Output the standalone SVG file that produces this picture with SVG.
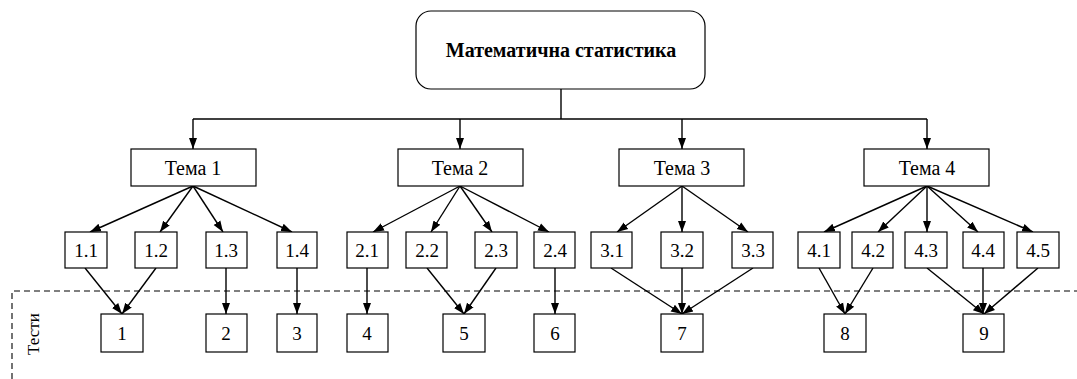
<svg xmlns="http://www.w3.org/2000/svg" width="1077" height="379" viewBox="0 0 1077 379">
<style>
.box{fill:#fff;stroke:#000;stroke-width:1.2}
.t{font-family:"Liberation Serif","Times New Roman",serif;font-size:20px;text-anchor:middle;dominant-baseline:central;fill:#000}
.s{font-size:19px}
.v{font-size:17px}
.c line,.c path{stroke:#000;stroke-width:1.4;fill:none}
.a{marker-end:url(#ar)}
.d{stroke:#000;stroke-width:1.1;stroke-dasharray:6 4;fill:none}
</style>
<defs>
<marker id="ar" markerUnits="userSpaceOnUse" markerWidth="11" markerHeight="11" viewBox="0 0 11 10" refX="11" refY="5" orient="auto">
<path d="M0,1 L11,5 L0,9 Z" fill="#000"/>
</marker>
</defs>
<rect x="0" y="0" width="1077" height="379" fill="#fff"/>
<path class="d" d="M12,379 V291 H1077"/>
<text class="t v" transform="translate(33,334) rotate(-90)">Тести</text>
<g class="c">
<path d="M561,89 V119"/>
<path d="M193,119 H927"/>
<line class="a" x1="193" y1="119" x2="193" y2="149"/>
<line class="a" x1="460" y1="119" x2="460" y2="149"/>
<line class="a" x1="682" y1="119" x2="682" y2="149"/>
<line class="a" x1="927" y1="119" x2="927" y2="149"/>
<line class="a" x1="193" y1="186" x2="90" y2="232"/>
<line class="a" x1="193" y1="186" x2="160" y2="232"/>
<line class="a" x1="193" y1="186" x2="223" y2="232"/>
<line class="a" x1="193" y1="186" x2="292" y2="232"/>
<line class="a" x1="460" y1="186" x2="373" y2="232"/>
<line class="a" x1="460" y1="186" x2="431" y2="232"/>
<line class="a" x1="460" y1="186" x2="492" y2="232"/>
<line class="a" x1="460" y1="186" x2="549" y2="232"/>
<line class="a" x1="682" y1="186" x2="617" y2="232"/>
<line class="a" x1="682" y1="186" x2="682" y2="232"/>
<line class="a" x1="682" y1="186" x2="748" y2="232"/>
<line class="a" x1="927" y1="186" x2="824" y2="232"/>
<line class="a" x1="927" y1="186" x2="878" y2="232"/>
<line class="a" x1="927" y1="186" x2="927" y2="232"/>
<line class="a" x1="927" y1="186" x2="978" y2="232"/>
<line class="a" x1="927" y1="186" x2="1033" y2="232"/>
<line class="a" x1="85" y1="268" x2="122" y2="314"/>
<line class="a" x1="156" y1="268" x2="122" y2="314"/>
<line class="a" x1="226" y1="268" x2="226" y2="314"/>
<line class="a" x1="297" y1="268" x2="297" y2="314"/>
<line class="a" x1="367" y1="268" x2="367" y2="314"/>
<line class="a" x1="427" y1="268" x2="464" y2="314"/>
<line class="a" x1="496" y1="268" x2="464" y2="314"/>
<line class="a" x1="555" y1="268" x2="555" y2="314"/>
<line class="a" x1="611" y1="268" x2="682" y2="314"/>
<line class="a" x1="682" y1="268" x2="682" y2="314"/>
<line class="a" x1="753" y1="268" x2="682" y2="314"/>
<line class="a" x1="819" y1="268" x2="845" y2="314"/>
<line class="a" x1="873" y1="268" x2="845" y2="314"/>
<line class="a" x1="927" y1="268" x2="984" y2="314"/>
<line class="a" x1="983" y1="268" x2="983" y2="314"/>
<line class="a" x1="1038" y1="268" x2="984" y2="314"/>
</g>
<g id="root"><rect class="box" x="416" y="11" width="289" height="78" rx="15"/><text class="t" x="561" y="50" font-weight="bold">Математична статистика</text></g>
<g id="tema1"><rect class="box" x="131" y="149" width="125" height="37"/><text class="t" x="193" y="168">Тема 1</text></g>
<g id="tema2"><rect class="box" x="398" y="149" width="125" height="37"/><text class="t" x="460" y="168">Тема 2</text></g>
<g id="tema3"><rect class="box" x="619" y="149" width="125" height="37"/><text class="t" x="682" y="168">Тема 3</text></g>
<g id="tema4"><rect class="box" x="864" y="149" width="125" height="37"/><text class="t" x="927" y="168">Тема 4</text></g>
<g id="s11"><rect class="box" x="65" y="232" width="42" height="36"/><text class="t s" x="86" y="250">1.1</text></g>
<g id="s12"><rect class="box" x="135" y="232" width="42" height="36"/><text class="t s" x="156" y="250">1.2</text></g>
<g id="s13"><rect class="box" x="206" y="232" width="41" height="36"/><text class="t s" x="226" y="250">1.3</text></g>
<g id="s14"><rect class="box" x="277" y="232" width="40" height="36"/><text class="t s" x="297" y="250">1.4</text></g>
<g id="s21"><rect class="box" x="347" y="232" width="41" height="36"/><text class="t s" x="367" y="250">2.1</text></g>
<g id="s22"><rect class="box" x="406" y="232" width="41" height="36"/><text class="t s" x="427" y="250">2.2</text></g>
<g id="s23"><rect class="box" x="475" y="232" width="42" height="36"/><text class="t s" x="496" y="250">2.3</text></g>
<g id="s24"><rect class="box" x="534" y="232" width="41" height="36"/><text class="t s" x="555" y="250">2.4</text></g>
<g id="s31"><rect class="box" x="591" y="232" width="41" height="36"/><text class="t s" x="612" y="250">3.1</text></g>
<g id="s32"><rect class="box" x="661" y="232" width="42" height="36"/><text class="t s" x="682" y="250">3.2</text></g>
<g id="s33"><rect class="box" x="732" y="232" width="41" height="36"/><text class="t s" x="753" y="250">3.3</text></g>
<g id="s41"><rect class="box" x="798" y="232" width="42" height="36"/><text class="t s" x="819" y="250">4.1</text></g>
<g id="s42"><rect class="box" x="852" y="232" width="41" height="36"/><text class="t s" x="873" y="250">4.2</text></g>
<g id="s43"><rect class="box" x="905" y="232" width="42" height="36"/><text class="t s" x="926" y="250">4.3</text></g>
<g id="s44"><rect class="box" x="963" y="232" width="41" height="36"/><text class="t s" x="983" y="250">4.4</text></g>
<g id="s45"><rect class="box" x="1017" y="232" width="42" height="36"/><text class="t s" x="1038" y="250">4.5</text></g>
<g id="test1"><rect class="box" x="101" y="314" width="42" height="38"/><text class="t s" x="122" y="333">1</text></g>
<g id="test2"><rect class="box" x="206" y="314" width="41" height="38"/><text class="t s" x="226" y="333">2</text></g>
<g id="test3"><rect class="box" x="277" y="314" width="40" height="38"/><text class="t s" x="297" y="333">3</text></g>
<g id="test4"><rect class="box" x="347" y="314" width="41" height="38"/><text class="t s" x="367" y="333">4</text></g>
<g id="test5"><rect class="box" x="443" y="314" width="42" height="38"/><text class="t s" x="464" y="333">5</text></g>
<g id="test6"><rect class="box" x="534" y="314" width="41" height="38"/><text class="t s" x="555" y="333">6</text></g>
<g id="test7"><rect class="box" x="661" y="314" width="42" height="38"/><text class="t s" x="682" y="333">7</text></g>
<g id="test8"><rect class="box" x="824" y="314" width="42" height="38"/><text class="t s" x="845" y="333">8</text></g>
<g id="test9"><rect class="box" x="963" y="314" width="41" height="38"/><text class="t s" x="984" y="333">9</text></g>
</svg>
